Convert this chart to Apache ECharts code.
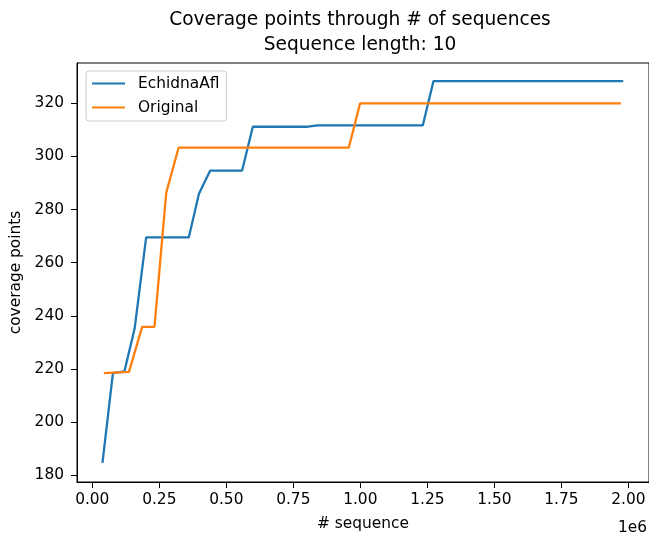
<!DOCTYPE html>
<html>
<head>
<meta charset="utf-8">
<script src="https://cdn.jsdelivr.net/npm/echarts@6/dist/echarts.min.js"></script>
<style>
  html, body { margin: 0; padding: 0; background: #fff; }
  #chart { width: 649px; height: 536px; }
</style>
</head>
<body>
<div id="chart"></div>
<script>
// matplotlib-ish colours
const BLUE = '#1f77b4';
const ORANGE = '#ff7f0e';
const FONT = 'DejaVu Sans';
const TICK_SIZE = 15.4;
const TITLE_SIZE = 18.6;

// data (vertices of each line)
const echidnaX = [38000, 77000, 120000, 158000, 201000, 360000, 398000, 440000, 559000, 599000, 804000, 841000, 1233000, 1273000, 1981000];
const echidnaY = [184.6, 218.4, 219.1, 235.2, 269.5, 269.5, 286.0, 294.7, 294.7, 311.2, 311.2, 311.7, 311.7, 328.4, 328.4];

const originalX = [43000, 137000, 186000, 232000, 276000, 322000, 957000, 999000, 1972000];
const originalY = [218.4, 218.9, 235.8, 235.8, 286.4, 303.3, 303.3, 320.0, 320.0];

// tick labels
const xTicks = [0, 250000, 500000, 750000, 1000000, 1250000, 1500000, 1750000, 2000000];
const yTicks = [180, 200, 220, 240, 260, 280, 300, 320];

const toPairs = (xs, ys) => xs.map((x, i) => [x, ys[i]]);

const chart = echarts.init(document.getElementById('chart'));

const option = {
  backgroundColor: '#fff',
  animation: false,
  textStyle: { fontFamily: FONT },
  grid: {
    left: 77,
    top: 63,
    width: 572,
    height: 426,
    show: true,
    borderColor: '#000',
    borderWidth: 1
  },
  legend: {
    orient: 'vertical',
    left: 86,
    top: 71,
    itemWidth: 33,
    itemHeight: 14,
    itemGap: 9,
    padding: [5, 7, 6, 5],
    borderColor: '#cccccc',
    borderWidth: 1,
    borderRadius: 3,
    backgroundColor: 'rgba(255,255,255,0.8)',
    itemStyle: { opacity: 0 },
    textStyle: { fontFamily: FONT, fontSize: TICK_SIZE, color: '#000', padding: [0, 0, 0, 8] },
    data: ['EchidnaAfl', 'Original']
  },
  xAxis: {
    type: 'value',
    min: -57000,
    max: 2077000,
    name: '# sequence',
    nameLocation: 'middle',
    nameGap: 34,
    nameTextStyle: { fontFamily: FONT, fontSize: TICK_SIZE, color: '#000' },
    axisLine: { show: true, onZero: false, lineStyle: { color: '#000', width: 1 } },
    axisTick: { show: true, length: 6, lineStyle: { color: '#000' }, customValues: xTicks },
    axisLabel: {
      fontFamily: FONT,
      fontSize: TICK_SIZE,
      color: '#000',
      margin: 10,
      customValues: xTicks,
      formatter: (v) => (v / 1e6).toFixed(2)
    },
    splitLine: { show: false }
  },
  yAxis: {
    type: 'value',
    min: 177.4,
    max: 335.2,
    name: 'coverage points',
    nameLocation: 'middle',
    nameGap: 49,
    nameTextStyle: { fontFamily: FONT, fontSize: TICK_SIZE, color: '#000' },
    axisLine: { show: true, onZero: false, lineStyle: { color: '#000', width: 1 } },
    axisTick: { show: true, length: 6, lineStyle: { color: '#000' }, customValues: yTicks },
    axisLabel: {
      fontFamily: FONT,
      fontSize: TICK_SIZE,
      color: '#000',
      margin: 13,
      customValues: yTicks,
      formatter: (v) => String(v)
    },
    splitLine: { show: false }
  },
  graphic: [
    {
      type: 'text',
      x: 360,
      y: 20,
      style: {
        text: 'Coverage points through # of sequences',
        font: TITLE_SIZE + 'px "DejaVu Sans"',
        fill: '#000',
        align: 'center',
        verticalAlign: 'middle'
      }
    },
    {
      type: 'text',
      x: 360,
      y: 45,
      style: {
        text: 'Sequence length: 10',
        font: TITLE_SIZE + 'px "DejaVu Sans"',
        fill: '#000',
        align: 'center',
        verticalAlign: 'middle'
      }
    },
    {
      type: 'text',
      x: 647,
      y: 528,
      style: {
        text: '1e6',
        font: TICK_SIZE + 'px "DejaVu Sans"',
        fill: '#000',
        align: 'right',
        verticalAlign: 'middle'
      }
    }
  ],
  series: [
    {
      name: 'EchidnaAfl',
      type: 'line',
      data: toPairs(echidnaX, echidnaY),
      symbol: 'none',
      lineStyle: { color: BLUE, width: 2.3 },
      itemStyle: { color: BLUE }
    },
    {
      name: 'Original',
      type: 'line',
      data: toPairs(originalX, originalY),
      symbol: 'none',
      lineStyle: { color: ORANGE, width: 2.3 },
      itemStyle: { color: ORANGE }
    }
  ]
};

chart.setOption(option);
</script>
</body>
</html>
